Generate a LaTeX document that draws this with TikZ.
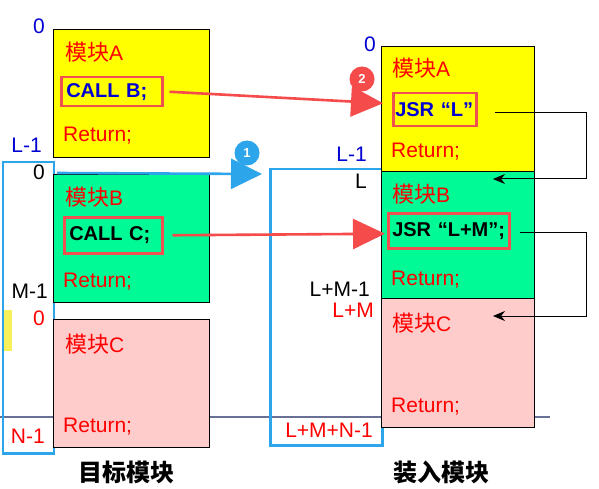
\documentclass[tikz,border=0pt]{standalone}
\usepackage{fontspec}
\setmainfont{Liberation Sans}
\newfontfamily\cjk{Noto Sans CJK SC}
\usetikzlibrary{arrows.meta}
\definecolor{cred}{RGB}{255,0,0}
\definecolor{cblue}{RGB}{0,0,210}
\definecolor{boxred}{RGB}{240,80,80}
\definecolor{arrred}{RGB}{245,75,75}
\definecolor{skyb}{RGB}{45,165,235}
\definecolor{ayel}{RGB}{255,255,0}
\definecolor{bgrn}{RGB}{0,250,150}
\definecolor{cpink}{RGB}{255,204,204}
\definecolor{lgray}{RGB}{105,112,150}
\definecolor{pyel}{RGB}{248,240,90}
\newcommand{\mk}{{\cjk\fontsize{22}{26}\selectfont 模块}}
\begin{document}
\begin{tikzpicture}[x=1pt,y=-1pt,
 every node/.style={font=\fontsize{21}{25}\selectfont, inner sep=0pt},
 modbox/.style={draw=black, line width=1.3pt, anchor=north west, minimum width=156pt},
 callbox/.style={draw=boxred, line width=2.5pt, anchor=north west, inner xsep=5pt, align=left, font=\fontsize{20}{24}\selectfont\bfseries},
 lbl/.style={anchor=base west, text=cred},
 num/.style={anchor=base east},
 bluebox/.style={draw=skyb, line width=2.5pt, anchor=north west},
 redarr/.style={draw=arrred, line width=2.6pt, -{Triangle[length=32pt,width=30pt]}},
 bluearr/.style={draw=skyb, line width=2.6pt, -{Triangle[length=31pt,width=30pt]}},
 blkarr/.style={draw=black, line width=1pt, -{Stealth[length=12pt,width=10pt]}},
 badge/.style={circle, minimum size=25pt, text=white, font=\fontsize{13}{14}\selectfont\bfseries},
 title/.style={anchor=center, font=\fontsize{24}{28}\selectfont\cjk\bfseries},
]
\useasboundingbox (0,0) rectangle (599,489);
\fill[white] (0,0) rectangle (599,489);

% background rule
\draw[lgray, line width=1.3pt] (0,417) -- (550,417);
\fill[pyel] (2,310) rectangle (12,351);

% memory outlines
\node[bluebox, minimum width=51pt, minimum height=291pt] (lmem) at (1.5,161) {};
\node[bluebox, minimum width=112pt, minimum height=276pt] (rmem) at (269,168) {};

% left modules
\node[modbox, fill=ayel, minimum height=128pt] (lA) at (53,29) {};
\node[modbox, fill=bgrn, minimum height=128pt] (lB) at (53,174) {};
\node[modbox, fill=cpink, minimum height=128pt] (lC) at (53,319) {};
% right modules
\node[modbox, fill=ayel, minimum width=153pt, minimum height=125pt] (rA) at (381,46) {};
\node[modbox, fill=bgrn, minimum width=153pt, minimum height=127pt] (rB) at (381,171) {};
\node[modbox, fill=cpink, minimum width=153pt, minimum height=129pt] (rC) at (381,298) {};

% left texts
\node[lbl] at (65,61) {\mk A};
\node[callbox, text=cblue, text width=91pt, minimum height=29pt] (callB) at (60,76) {CALL B;};
\node[lbl] at (63,142) {Return;};
\node[lbl] at (65,205) {\mk B};
\node[callbox, text=black, text width=88pt, minimum height=36pt] (callC) at (63,216) {CALL C;};
\node[lbl] at (63,287) {Return;};
\node[lbl] at (65,352) {\mk C};
\node[lbl] at (63,432) {Return;};

% right texts
\node[lbl] at (392,77) {\mk A};
\node[callbox, text=cblue, inner xsep=2pt, text width=79pt, minimum height=33pt] (jsrL) at (392,92) {JSR “L”};
\node[lbl] at (391,158) {Return;};
\node[lbl] at (392,202) {\mk B};
\node[callbox, text=black, inner xsep=4pt, text width=113pt, minimum height=35pt] (jsrLM) at (387,212) {JSR “L+M”;};
\node[lbl] at (391,285) {Return;};
\node[lbl] at (392,331) {\mk C};
\node[lbl] at (391,412) {Return;};

% address numbers left
\node[num, text=cblue] at (45,34) {0};
\node[num, text=cblue] at (42,153) {L-1};
\node[num] at (45,179) {0};
\node[num] at (48,298) {M-1};
\node[num, text=cred] at (45,325) {0};
\node[num, text=cred] at (45,443) {N-1};
% address numbers right
\node[num, text=cblue] at (376,52) {0};
\node[num, text=cblue] at (367,162) {L-1};
\node[num] at (367,188) {L};
\node[num] at (370,296) {L+M-1};
\node[num, text=cred] at (374,317) {L+M};
\node[num, text=cred] at (373,437) {L+M+N-1};

% titles
\node[title] (t1) at (126,472) {目标模块};
\node[title] (t2) at (441,472) {装入模块};

% arrows
\coordinate (b1s) at (57,173);
\coordinate (b1e) at (262,174);
\draw[bluearr] (b1s) -- (b1e);
\draw[redarr] ([xshift=6pt]callB.east) -- ([xshift=-9pt,yshift=6.5pt]jsrL.west);
\draw[redarr] ([xshift=9pt]callC.east) -- ([xshift=-2pt,yshift=-3pt]jsrLM.west);

\coordinate (rt) at (586,0);
\coordinate (retB) at (493,179);
\coordinate (retC) at (493,316);
\coordinate (s1) at ([xshift=17pt,yshift=-3pt]jsrL.east);
\coordinate (s2) at ([xshift=9pt,yshift=-1.5pt]jsrLM.east);
\draw[blkarr] (s1) -- (s1 -| rt) -- (rt |- retB) -- (retB);
\draw[blkarr] (s2) -- (s2 -| rt) -- (rt |- retC) -- (retC);

% badges
\node[badge, fill=skyb] (n1) at (247,153) {1};
\node[badge, fill=arrred] (n2) at (362,79) {2};
\end{tikzpicture}
\end{document}
